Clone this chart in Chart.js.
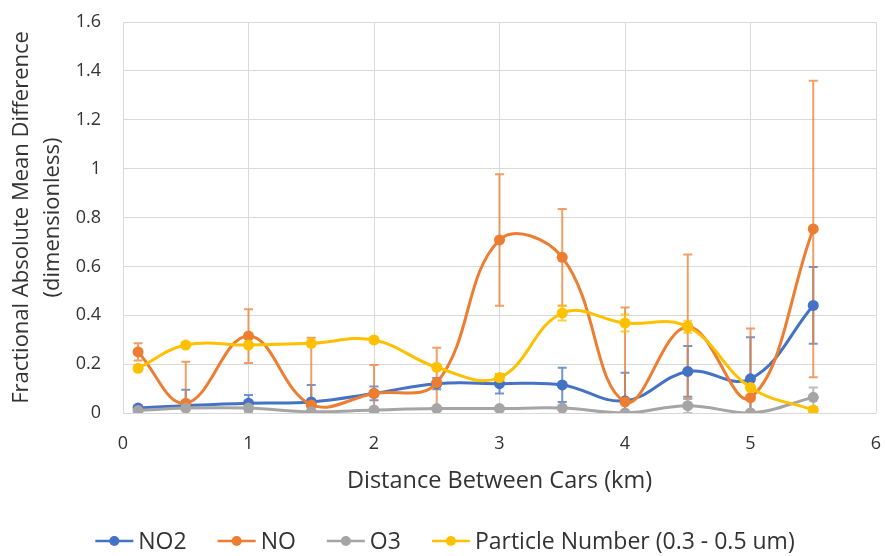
<!DOCTYPE html>
<html>
<head>
<meta charset="utf-8">
<script src="https://cdn.jsdelivr.net/npm/chart.js@4"></script>
<style>
	html, body { margin: 0; padding: 0; background: #fff; }
</style>
</head>
<body>
<canvas id="fam-chart" width="885" height="556"></canvas>
<script>

// distances between the two cars (km)
const distances = [0.12, 0.5, 1, 1.5, 2, 2.5, 3, 3.5, 4, 4.5, 5, 5.5];

// fractional absolute mean difference, per pollutant
const no2 = [0.02, 0.03, 0.04, 0.045, 0.08, 0.12, 0.12, 0.115, 0.05, 0.17, 0.14, 0.44];
const no = [0.25, 0.04, 0.315, 0.033, 0.08, 0.124, 0.708, 0.637, 0.046, 0.353, 0.063, 0.753];
const o3 = [0.01, 0.02, 0.02, 0.005, 0.012, 0.018, 0.018, 0.02, 0.0, 0.03, 0.0, 0.064];
const pn = [0.183, 0.278, 0.278, 0.285, 0.299, 0.187, 0.145, 0.409, 0.368, 0.353, 0.104, 0.012];

// error bar half-heights (+/-)
const no2Err = [0.01, 0.065, 0.034, 0.07, 0.028, 0.023, 0.04, 0.07, 0.115, 0.104, 0.17, 0.157];
const noErr = [0.035, 0.17, 0.11, 0.275, 0.116, 0.143, 0.269, 0.198, 0.386, 0.296, 0.283, 0.607];
const o3Err = [0.005, 0.01, 0.01, 0.005, 0.005, 0.005, 0.005, 0.005, 0.005, 0.03, 0.01, 0.04];
const pnErr = [0.01, 0.01, 0.01, 0.01, 0.01, 0.01, 0.015, 0.03, 0.035, 0.025, 0.01, 0.005];

const seriesNames = ['NO2', 'NO', 'O3', 'Particle Number (0.3 - 0.5 um)'];
const seriesColors = ['#4472C4', '#ED7D31', '#A5A5A5', '#FFC000'];
const seriesValues = [no2, no, o3, pn];
const seriesErrors = [no2Err, noErr, o3Err, pnErr];

const FONT = '"Open Sans", Lato, sans-serif';
const TEXT = '#333333';

function to_points(values) {
	return distances.map((d, i) => ({ x: d, y: values[i] }));
}

const errorBars = {
	id: 'errorBars',
	beforeDatasetsDraw(chart) {
		const ctx = chart.ctx;
		const xs = chart.scales.x;
		const ys = chart.scales.y;
		const area = chart.chartArea;
		ctx.save();
		ctx.beginPath();
		ctx.rect(area.left, area.top, area.right - area.left, area.bottom - area.top);
		ctx.clip();
		ctx.globalAlpha = 0.75;
		chart.data.datasets.forEach((ds) => {
			ctx.strokeStyle = ds.borderColor;
			ctx.lineWidth = 2;
			ds.data.forEach((p, i) => {
				const e = ds.errors[i];
				const px = xs.getPixelForValue(p.x);
				const top = ys.getPixelForValue(p.y + e);
				const bot = ys.getPixelForValue(p.y - e);
				ctx.beginPath();
				ctx.moveTo(px, top);
				ctx.lineTo(px, bot);
				ctx.moveTo(px - 4.5, top);
				ctx.lineTo(px + 4.5, top);
				ctx.moveTo(px - 4.5, bot);
				ctx.lineTo(px + 4.5, bot);
				ctx.stroke();
			});
		});
		ctx.restore();
	}
};

// Excel style legend: short line with a dot, then the name
const lineLegend = {
	id: 'lineLegend',
	afterDraw(chart) {
		const ctx = chart.ctx;
		const markW = 38, textGap = 5, itemGap = 31;
		ctx.save();
		ctx.font = '23px ' + FONT;
		ctx.textBaseline = 'middle';
		const items = chart.data.datasets.map((ds) => ({
			label: ds.label,
			color: ds.borderColor,
			w: ctx.measureText(ds.label).width
		}));
		let total = itemGap * (items.length - 1);
		items.forEach((it) => { total += markW + textGap + it.w; });
		let x = 445 - total / 2;
		const y = 541;
		items.forEach((it) => {
			ctx.strokeStyle = it.color;
			ctx.lineWidth = 2.5;
			ctx.beginPath();
			ctx.moveTo(x, y);
			ctx.lineTo(x + markW, y);
			ctx.stroke();
			ctx.fillStyle = it.color;
			ctx.beginPath();
			ctx.arc(x + markW / 2, y, 5, 0, Math.PI * 2);
			ctx.fill();
			ctx.fillStyle = TEXT;
			ctx.fillText(it.label, x + markW + textGap, y + 1);
			x += markW + textGap + it.w + itemGap;
		});
		ctx.restore();
	}
};

const datasets = seriesNames.map((name, i) => ({
	label: name,
	data: to_points(seriesValues[i]),
	errors: seriesErrors[i],
	borderColor: seriesColors[i],
	backgroundColor: seriesColors[i],
	borderWidth: 3,
	pointRadius: 5.5,
	pointBorderWidth: 0,
	showLine: true,
	tension: 0.4,
	order: seriesNames.length - i // later series drawn on top, like Excel
}));

new Chart(document.getElementById('fam-chart'), {
	type: 'scatter',
	data: { datasets: datasets },
	plugins: [errorBars, lineLegend],
	options: {
		responsive: false,
		animation: false,
		devicePixelRatio: 1,
		layout: { padding: { left: 5, right: 9, top: 22, bottom: 60.5 } },
		scales: {
			x: {
				type: 'linear',
				min: 0,
				max: 6,
				ticks: { stepSize: 1, color: TEXT, font: { family: FONT, size: 18 }, padding: 20 },
				grid: { color: '#D9D9D9', lineWidth: 1, drawTicks: false },
				border: { display: false },
				title: {
					display: true,
					text: 'Distance Between Cars (km)',
					color: TEXT,
					font: { family: FONT, size: 23.5 },
					padding: { top: 0, bottom: 0 }
				},
				afterFit(s) {
					s.height = 82.5;
					s.paddingLeft = 0;
					s.paddingRight = 0;
				}
			},
			y: {
				min: 0,
				max: 1.6,
				ticks: {
					stepSize: 0.2,
					color: TEXT,
					font: { family: FONT, size: 18 },
					padding: 22,
					callback: (v) => String(+v.toFixed(1))
				},
				grid: { color: '#D9D9D9', lineWidth: 1, drawTicks: false },
				border: { display: false },
				title: {
					display: true,
					text: ['Fractional Absolute Mean Difference', '(dimensionless)'],
					color: TEXT,
					font: { family: FONT, size: 22, lineHeight: 1.41 },
					padding: { top: 1, bottom: 0 }
				},
				afterFit(s) {
					s.width = 118;
					s.paddingTop = 0;
					s.paddingBottom = 0;
				}
			}
		},
		plugins: {
			tooltip: { enabled: false },
			legend: { display: false }
		}
	}
});
</script>
</body>
</html>
